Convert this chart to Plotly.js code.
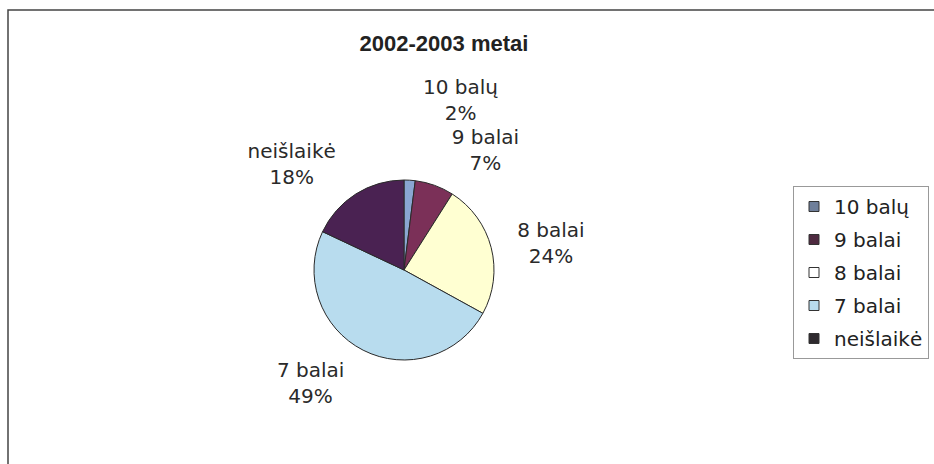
<!DOCTYPE html>
<html>
<head>
<meta charset="utf-8">
<script src="https://cdn.plot.ly/plotly-3.0.1.min.js"></script>
<style>
html,body{margin:0;padding:0;background:#fff;}
#chart{width:934px;height:464px;}
.pielayer .textline{stroke:none !important;}
</style>
</head>
<body>
<div id="chart"></div>
<script>
const categories = ["10 balų", "9 balai", "8 balai", "7 balai", "neišlaikė"];
const percentValues = [2, 7, 24, 49, 18];
const sliceColors = ["#8aa6d2", "#7b3058", "#ffffd2", "#b8dcee", "#4a2252"];
const legendColors = ["#6f7f9a", "#4e2a40", "#ffffff", "#b8dcee", "#2e2a2e"];
const chartTitle = "2002-2003 metai";

const W = 934, H = 464;
const cx = 404, cy = 270, r = 90, rLabel = 104;
const labelFont = {family: "DejaVu Sans, sans-serif", size: 20, color: "#2a2a2a"};

function domainFor(rad) {
  return {x: [(cx - rad) / W, (cx + rad) / W], y: [(H - cy - rad) / H, (H - cy + rad) / H]};
}

// visible pie
const pieTrace = {
  type: "pie",
  labels: categories,
  values: percentValues,
  sort: false,
  direction: "clockwise",
  rotation: 0,
  marker: {colors: sliceColors, line: {color: "#2a2a2a", width: 1}},
  textinfo: "none",
  hoverinfo: "label+percent",
  showlegend: false,
  domain: domainFor(r),
  automargin: false
};

// transparent copy of the same pie, slightly larger, used only to place the outside labels
const labelTrace = {
  type: "pie",
  labels: categories,
  values: percentValues,
  sort: false,
  direction: "clockwise",
  rotation: 0,
  marker: {colors: categories.map(() => "rgba(0,0,0,0)"), line: {width: 0}},
  textinfo: "label+percent",
  textposition: "outside",
  outsidetextfont: labelFont,
  hoverinfo: "skip",
  showlegend: false,
  domain: domainFor(rLabel),
  automargin: false
};

const legendTraces = categories.map((name, i) => ({
  type: "scatter",
  mode: "markers",
  x: [null], y: [null],
  name: name,
  legendgroup: "g" + i,
  showlegend: true,
  marker: {symbol: "square", size: 10, color: legendColors[i], line: {color: "#333", width: 1}},
  hoverinfo: "skip"
}));

const layout = {
  width: W, height: H,
  margin: {l: 0, r: 0, t: 0, b: 0},
  paper_bgcolor: "#fff",
  plot_bgcolor: "rgba(0,0,0,0)",
  xaxis: {visible: false, domain: [0, 0.01]},
  yaxis: {visible: false, domain: [0, 0.01]},
  font: labelFont,
  title: {text: "<b>" + chartTitle + "</b>", font: {family: "Liberation Sans, Arial, sans-serif", size: 22, color: "#222"}, x: 444 / W, xanchor: "center", y: 1 - 43 / H, yanchor: "middle"},
  showlegend: true,
  legend: {
    x: 793 / W, xanchor: "left", y: 1 - 186 / H, yanchor: "top",
    bordercolor: "#999", borderwidth: 1, bgcolor: "#fff",
    tracegroupgap: 4,
    itemwidth: 30,
    font: {family: "DejaVu Sans, sans-serif", size: 20, color: "#222"}
  },
  shapes: [{
    type: "rect", xref: "paper", yref: "paper",
    x0: 8 / W, x1: 1.02, y0: -0.02, y1: 1 - 10 / H,
    line: {color: "#444", width: 1.5}
  }]
};

Plotly.newPlot("chart", [pieTrace, labelTrace].concat(legendTraces), layout, {displayModeBar: false, staticPlot: true});
</script>
</body>
</html>
